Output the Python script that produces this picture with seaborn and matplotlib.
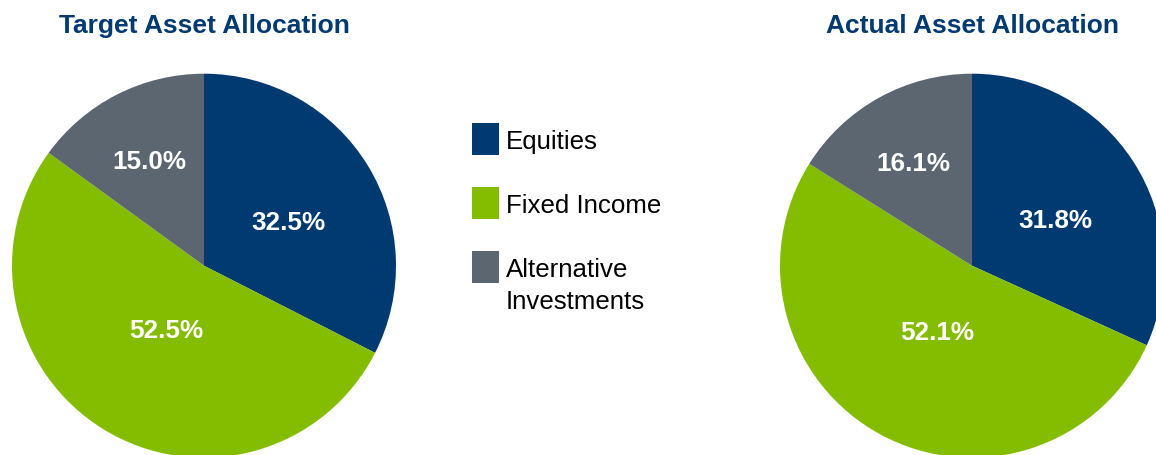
import matplotlib
matplotlib.use('Agg')
import matplotlib.pyplot as plt
import seaborn as sns
from matplotlib.patches import Rectangle
import numpy as np

# Data
categories = ['Equities', 'Fixed Income', 'Alternative\nInvestments']
target_alloc = [32.5, 52.5, 15.0]
actual_alloc = [31.8, 52.1, 16.1]
titles = ['Target Asset Allocation', 'Actual Asset Allocation']

# Style
sns.set_style('white')
plt.rcParams['font.family'] = ['Liberation Sans', 'DejaVu Sans']
colors = ['#003A70', '#84BD00', '#5B6670']
navy = '#003A70'
label_dist = [0.50, 0.377, 0.627]   # best-fit label distances per wedge
label_turn = [-3, 0, 0]             # small angle nudge (deg) per wedge label
W, H = 1156, 456
R = 192   # pie radius in px

fig = plt.figure(figsize=(W / 100, H / 100), dpi=100)


def draw_pie(cx, cy, values, title):
    ax = fig.add_axes([(cx - R) / W, (H - cy - R) / H, 2 * R / W, 2 * R / H])
    wedges, _ = ax.pie(values, colors=colors, startangle=90, counterclock=False,
                       radius=1, wedgeprops=dict(linewidth=0))
    for w, v, d, t in zip(wedges, values, label_dist, label_turn):
        mid = np.deg2rad((w.theta1 + w.theta2) / 2 + t)
        ax.annotate(f'{v:.1f}%', (d * np.cos(mid), d * np.sin(mid)),
                    xytext=(0, -9.3), textcoords='offset pixels',
                    color='white', fontsize=18.8, fontweight='bold',
                    ha='center', va='baseline')
    ax.set_xlim(-1, 1)
    ax.set_ylim(-1, 1)
    ax.set_aspect('equal')
    ax.axis('off')
    fig.text(cx / W, 1 - 32.7 / H, title, color=navy, fontsize=19,
             fontweight='bold', ha='center', va='baseline')


draw_pie(204, 266.7, target_alloc, titles[0])
draw_pie(972, 266.7, actual_alloc, titles[1])

# legend: coloured squares with labels
sq_x, sq_w, sq_h = 471.7, 27.3, 32
row_tops = [124, 187.7, 251.7]
for c, lab, top in zip(colors, categories, row_tops):
    fig.add_artist(Rectangle((sq_x / W, 1 - (top + sq_h) / H), sq_w / W, sq_h / H,
                             facecolor=c, edgecolor='none',
                             transform=fig.transFigure))
    baseline = top + sq_h / 2 + 9.3
    for i, line in enumerate(lab.split('\n')):
        fig.text(505.5 / W, 1 - (baseline + i * 31.6) / H, line, color='black',
                 fontsize=18.6, ha='left', va='baseline')

fig.savefig('out.png', dpi=100)
